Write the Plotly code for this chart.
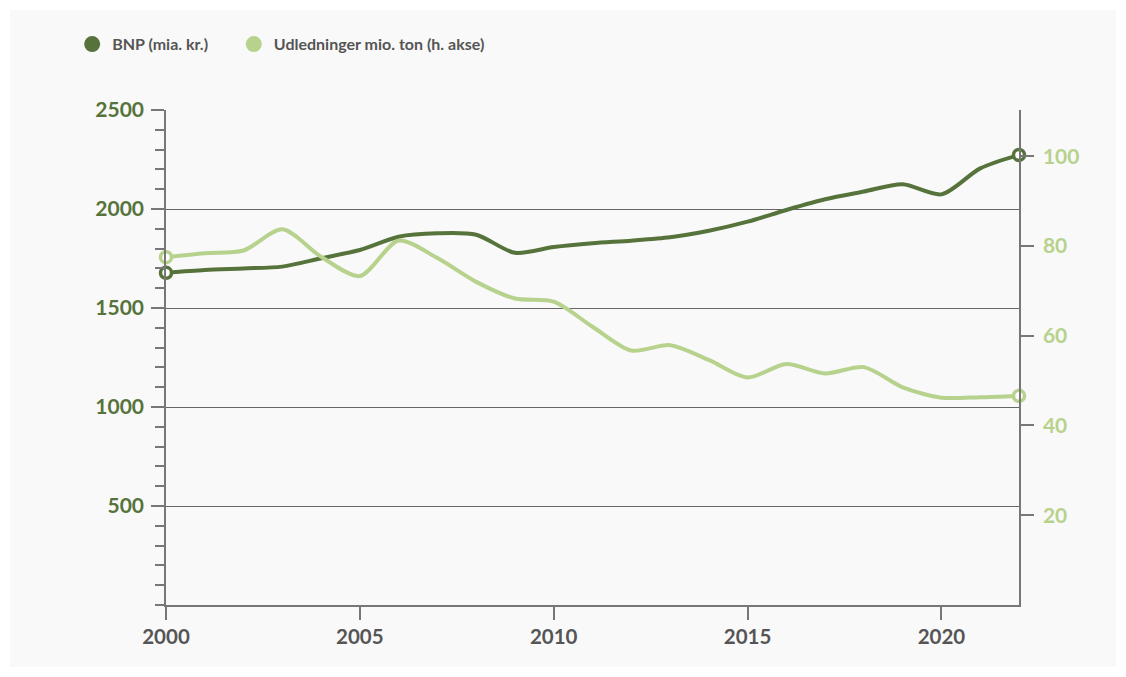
import plotly.graph_objects as go

years = list(range(2000, 2023))
bnp = [1678, 1692, 1700, 1709, 1751, 1793, 1860, 1877, 1870, 1779, 1808, 1827,
       1840, 1857, 1890, 1936, 1995, 2049, 2088, 2125, 2074, 2205, 2273]
udledning = [77.5, 78.4, 79.0, 83.7, 77.6, 73.3, 81.2, 77.3, 72.0, 68.3, 67.6, 62.0,
             56.7, 57.9, 54.6, 50.7, 53.7, 51.6, 53.0, 48.5, 46.2, 46.3, 46.6]

left_ticks = [500, 1000, 1500, 2000, 2500]
right_ticks = [20, 40, 60, 80, 100]
x_ticks = [2000, 2005, 2010, 2015, 2020]

DARK = "#55733a"
LIGHT = "#b7d28d"
GREY = "#555555"
AXIS = "#777777"
FONT = "Lato"

fig = go.Figure()

# --- lines ---
fig.add_trace(go.Scatter(
    x=years, y=bnp, mode="lines",
    line=dict(color=DARK, width=4, shape="spline", smoothing=0.8),
    showlegend=False, hoverinfo="x+y"
))
fig.add_trace(go.Scatter(
    x=years, y=udledning, mode="lines", yaxis="y2",
    line=dict(color=LIGHT, width=4, shape="spline", smoothing=0.8),
    showlegend=False, hoverinfo="x+y"
))

# --- open circles at the ends ---
fig.add_trace(go.Scatter(
    x=[years[0], years[-1]], y=[bnp[0], bnp[-1]], mode="markers",
    marker=dict(size=11, color="white", line=dict(color=DARK, width=3.5)),
    showlegend=False, cliponaxis=False
))
fig.add_trace(go.Scatter(
    x=[years[0], years[-1]], y=[udledning[0], udledning[-1]], mode="markers", yaxis="y2",
    marker=dict(size=11, color="white", line=dict(color=LIGHT, width=3.5)),
    showlegend=False, cliponaxis=False
))

# --- legend entries (one legend each so the spacing can be set) ---
fig.add_trace(go.Scatter(
    x=[None], y=[None], mode="markers", name="BNP (mia. kr.)",
    marker=dict(size=17, color=DARK), legend="legend"
))
fig.add_trace(go.Scatter(
    x=[None], y=[None], mode="markers", name="Udledninger mio. ton (h. akse)",
    marker=dict(size=17, color=LIGHT), legend="legend2"
))

# light panel behind everything
fig.add_shape(
    type="rect", xref="paper", yref="paper",
    x0=-0.1829, x1=1.1137, y0=-0.1253, y1=1.202,
    fillcolor="#f9f9f9", line=dict(width=0), layer="below"
)

legend_style = dict(
    orientation="h", y=1.133, xanchor="left", yanchor="middle",
    font=dict(size=16, color=GREY, weight="bold"),
    bgcolor="rgba(0,0,0,0)", itemsizing="trace"
)

# page body adds 8px, so the figure is a bit smaller than the window
fig.update_layout(
    width=1110, height=661,
    margin=dict(l=158, r=99, t=102, b=64),
    paper_bgcolor="white",
    plot_bgcolor="rgba(0,0,0,0)",
    font=dict(family=FONT, color=GREY),
    legend=dict(x=-0.11, **legend_style),
    legend2=dict(x=0.0795, **legend_style),
    xaxis=dict(
        range=[2000, 2022], tickvals=x_ticks,
        showgrid=False, zeroline=False,
        showline=True, linecolor=AXIS, linewidth=1.5,
        ticks="outside", ticklen=13, tickcolor=AXIS, tickwidth=1.5,
        tickfont=dict(size=20.5, color=GREY, weight="bold")
    ),
    yaxis=dict(
        range=[0, 2500], tickvals=left_ticks,
        showgrid=True, gridcolor="#666666", gridwidth=1, zeroline=False,
        showline=True, linecolor=AXIS, linewidth=1.5,
        ticks="outside", ticklen=13, tickcolor=AXIS, tickwidth=1.5,
        minor=dict(dtick=100, tick0=0, ticks="outside", ticklen=9,
                   tickcolor=AXIS, tickwidth=1.5, showgrid=False),
        tickfont=dict(size=21, color=DARK, weight="bold"),
        ticklabelstandoff=3
    ),
    yaxis2=dict(
        range=[0, 110.3], tickvals=right_ticks, overlaying="y", side="right",
        showgrid=False, zeroline=False,
        showline=True, linecolor=AXIS, linewidth=1.5,
        ticks="outside", ticklen=13, tickcolor=AXIS, tickwidth=1.5,
        tickfont=dict(size=21, color=LIGHT, weight="bold"),
        ticklabelstandoff=5
    ),
)

fig.write_html("out.html")
